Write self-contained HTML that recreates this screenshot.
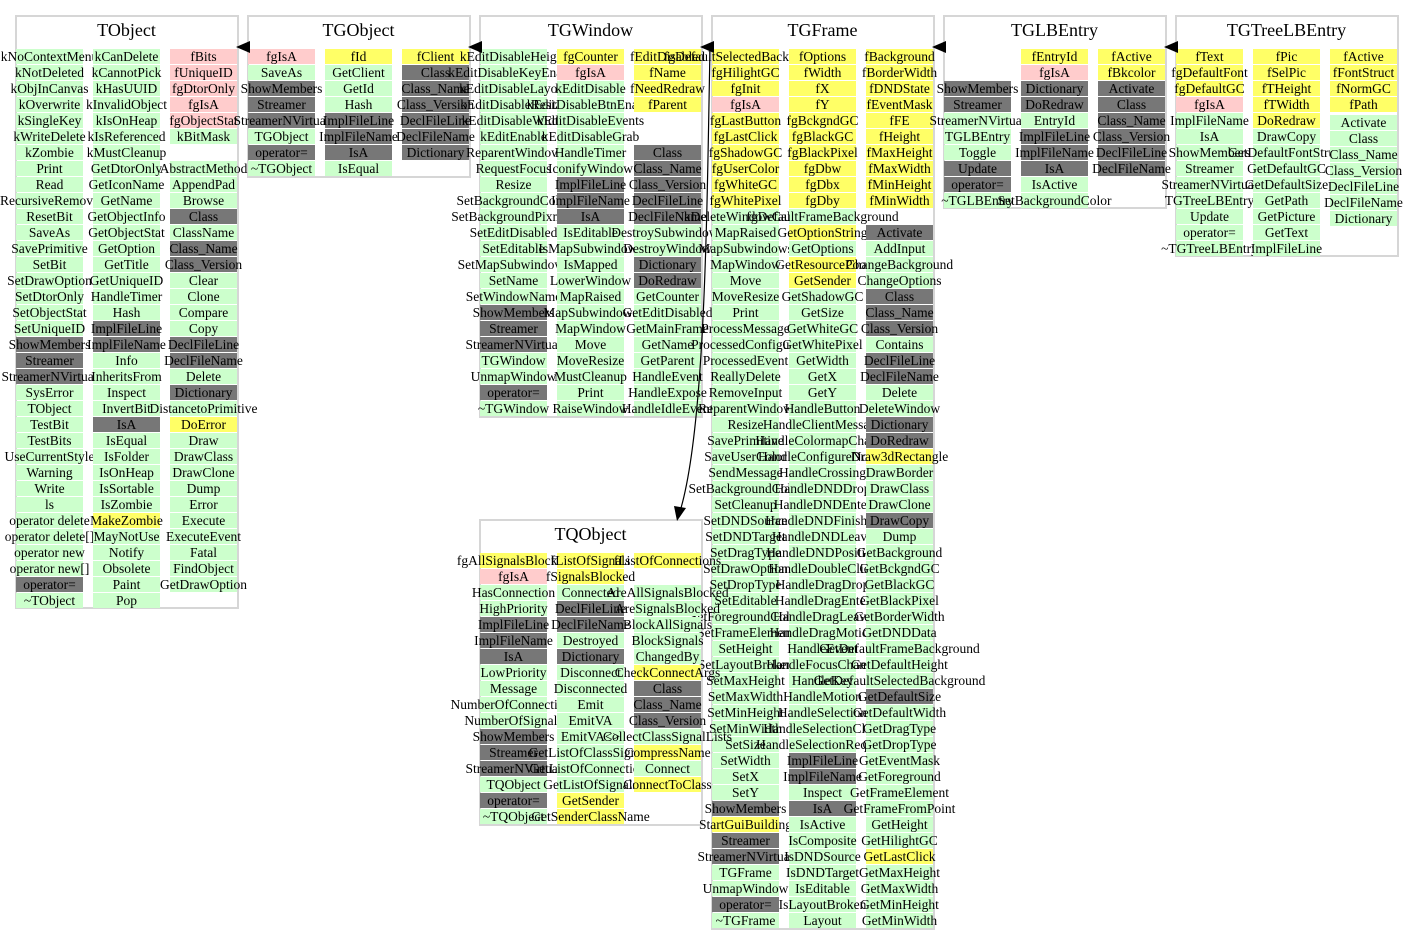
<!DOCTYPE html>
<html><head><meta charset="utf-8"><style>
body{margin:0;width:1413px;height:944px;background:#fff;position:relative;overflow:hidden;font-family:"Liberation Serif",serif;}
.b{position:absolute;border:2px solid #d6d6d6;box-sizing:border-box;}
.t{position:absolute;font-size:18px;text-align:center;width:223px;}
.col{position:absolute;width:67px;font-size:13.5px;}
.col i{display:flex;justify-content:center;align-items:center;height:15px;margin-bottom:1px;width:67px;white-space:nowrap;font-style:normal;color:#000;line-height:15px;}
.g{background:#ccffcc}.y{background:#ffff66}.p{background:#ffcccc}.d{background:#777}
</style></head><body>
<div class="b" style="left:15px;top:15px;width:224px;height:594px"></div>
<div class="b" style="left:247px;top:15px;width:224px;height:163px"></div>
<div class="b" style="left:479px;top:15px;width:224px;height:403px"></div>
<div class="b" style="left:711px;top:15px;width:224px;height:915px"></div>
<div class="b" style="left:943px;top:15px;width:224px;height:194px"></div>
<div class="b" style="left:1175px;top:15px;width:224px;height:242px"></div>
<div class="b" style="left:479px;top:519px;width:224px;height:307px"></div>
<div class="t" style="left:15px;top:20px">TObject</div>
<div class="t" style="left:247px;top:20px">TGObject</div>
<div class="t" style="left:479px;top:20px">TGWindow</div>
<div class="t" style="left:711px;top:20px">TGFrame</div>
<div class="t" style="left:943px;top:20px">TGLBEntry</div>
<div class="t" style="left:1175px;top:20px">TGTreeLBEntry</div>
<div class="t" style="left:479px;top:524px">TQObject</div>

<div class="col" style="left:16px;top:49px"><i class=g>kNoContextMenu</i><i class=g>kNotDeleted</i><i class=g>kObjInCanvas</i><i class=g>kOverwrite</i><i class=g>kSingleKey</i><i class=g>kWriteDelete</i><i class=g>kZombie</i><i class=g>Print</i><i class=g>Read</i><i class=g>RecursiveRemove</i><i class=g>ResetBit</i><i class=g>SaveAs</i><i class=g>SavePrimitive</i><i class=g>SetBit</i><i class=g>SetDrawOption</i><i class=g>SetDtorOnly</i><i class=g>SetObjectStat</i><i class=g>SetUniqueID</i><i class=d>ShowMembers</i><i class=d>Streamer</i><i class=d>StreamerNVirtual</i><i class=g>SysError</i><i class=g>TObject</i><i class=g>TestBit</i><i class=g>TestBits</i><i class=g>UseCurrentStyle</i><i class=g>Warning</i><i class=g>Write</i><i class=g>ls</i><i class=g>operator delete</i><i class=g>operator delete[]</i><i class=g>operator new</i><i class=g>operator new[]</i><i class=d>operator=</i><i class=g>~TObject</i></div>
<div class="col" style="left:93px;top:49px"><i class=g>kCanDelete</i><i class=g>kCannotPick</i><i class=g>kHasUUID</i><i class=g>kInvalidObject</i><i class=g>kIsOnHeap</i><i class=g>kIsReferenced</i><i class=g>kMustCleanup</i><i class=g>GetDtorOnly</i><i class=g>GetIconName</i><i class=g>GetName</i><i class=g>GetObjectInfo</i><i class=g>GetObjectStat</i><i class=g>GetOption</i><i class=g>GetTitle</i><i class=g>GetUniqueID</i><i class=g>HandleTimer</i><i class=g>Hash</i><i class=d>ImplFileLine</i><i class=d>ImplFileName</i><i class=g>Info</i><i class=g>InheritsFrom</i><i class=g>Inspect</i><i class=g>InvertBit</i><i class=d>IsA</i><i class=g>IsEqual</i><i class=g>IsFolder</i><i class=g>IsOnHeap</i><i class=g>IsSortable</i><i class=g>IsZombie</i><i class=y>MakeZombie</i><i class=g>MayNotUse</i><i class=g>Notify</i><i class=g>Obsolete</i><i class=g>Paint</i><i class=g>Pop</i></div>
<div class="col" style="left:170px;top:49px"><i class=p>fBits</i><i class=p>fUniqueID</i><i class=p>fgDtorOnly</i><i class=p>fgIsA</i><i class=p>fgObjectStat</i><i class=g>kBitMask</i><i></i><i class=g>AbstractMethod</i><i class=g>AppendPad</i><i class=g>Browse</i><i class=d>Class</i><i class=g>ClassName</i><i class=d>Class_Name</i><i class=d>Class_Version</i><i class=g>Clear</i><i class=g>Clone</i><i class=g>Compare</i><i class=g>Copy</i><i class=d>DeclFileLine</i><i class=d>DeclFileName</i><i class=g>Delete</i><i class=d>Dictionary</i><i class=g>DistancetoPrimitive</i><i class=y>DoError</i><i class=g>Draw</i><i class=g>DrawClass</i><i class=g>DrawClone</i><i class=g>Dump</i><i class=g>Error</i><i class=g>Execute</i><i class=g>ExecuteEvent</i><i class=g>Fatal</i><i class=g>FindObject</i><i class=g>GetDrawOption</i></div>

<div class="col" style="left:248px;top:49px"><i class=p>fgIsA</i><i class=g>SaveAs</i><i class=d>ShowMembers</i><i class=d>Streamer</i><i class=d>StreamerNVirtual</i><i class=g>TGObject</i><i class=d>operator=</i><i class=g>~TGObject</i></div>
<div class="col" style="left:325px;top:49px"><i class=y>fId</i><i class=g>GetClient</i><i class=g>GetId</i><i class=g>Hash</i><i class=d>ImplFileLine</i><i class=d>ImplFileName</i><i class=d>IsA</i><i class=g>IsEqual</i></div>
<div class="col" style="left:402px;top:49px"><i class=y>fClient</i><i class=d>Class</i><i class=d>Class_Name</i><i class=d>Class_Version</i><i class=d>DeclFileLine</i><i class=d>DeclFileName</i><i class=d>Dictionary</i></div>

<div class="col" style="left:480px;top:49px"><i class=g>kEditDisableHeight</i><i class=g>kEditDisableKeyEnable</i><i class=g>kEditDisableLayout</i><i class=g>kEditDisableResize</i><i class=g>kEditDisableWidth</i><i class=g>kEditEnable</i><i class=g>ReparentWindow</i><i class=g>RequestFocus</i><i class=g>Resize</i><i class=g>SetBackgroundColor</i><i class=g>SetBackgroundPixmap</i><i class=g>SetEditDisabled</i><i class=g>SetEditable</i><i class=g>SetMapSubwindows</i><i class=g>SetName</i><i class=g>SetWindowName</i><i class=d>ShowMembers</i><i class=d>Streamer</i><i class=d>StreamerNVirtual</i><i class=g>TGWindow</i><i class=g>UnmapWindow</i><i class=d>operator=</i><i class=g>~TGWindow</i></div>
<div class="col" style="left:557px;top:49px"><i class=y>fgCounter</i><i class=p>fgIsA</i><i class=g>kEditDisable</i><i class=g>kEditDisableBtnEnable</i><i class=g>kEditDisableEvents</i><i class=g>kEditDisableGrab</i><i class=g>HandleTimer</i><i class=g>IconifyWindow</i><i class=d>ImplFileLine</i><i class=d>ImplFileName</i><i class=d>IsA</i><i class=g>IsEditable</i><i class=g>IsMapSubwindows</i><i class=g>IsMapped</i><i class=g>LowerWindow</i><i class=g>MapRaised</i><i class=g>MapSubwindows</i><i class=g>MapWindow</i><i class=g>Move</i><i class=g>MoveResize</i><i class=g>MustCleanup</i><i class=g>Print</i><i class=g>RaiseWindow</i></div>
<div class="col" style="left:634px;top:49px"><i class=y>fEditDisabled</i><i class=y>fName</i><i class=y>fNeedRedraw</i><i class=y>fParent</i><i></i><i></i><i class=d>Class</i><i class=d>Class_Name</i><i class=d>Class_Version</i><i class=d>DeclFileLine</i><i class=d>DeclFileName</i><i class=g>DestroySubwindows</i><i class=g>DestroyWindow</i><i class=d>Dictionary</i><i class=d>DoRedraw</i><i class=g>GetCounter</i><i class=g>GetEditDisabled</i><i class=g>GetMainFrame</i><i class=g>GetName</i><i class=g>GetParent</i><i class=g>HandleEvent</i><i class=g>HandleExpose</i><i class=g>HandleIdleEvent</i></div>

<div class="col" style="left:712px;top:49px"><i class=y>fgDefaultSelectedBackground</i><i class=y>fgHilightGC</i><i class=y>fgInit</i><i class=p>fgIsA</i><i class=y>fgLastButton</i><i class=y>fgLastClick</i><i class=y>fgShadowGC</i><i class=y>fgUserColor</i><i class=y>fgWhiteGC</i><i class=y>fgWhitePixel</i><i class=g>kDeleteWindowCalled</i><i class=g>MapRaised</i><i class=g>MapSubwindows</i><i class=g>MapWindow</i><i class=g>Move</i><i class=g>MoveResize</i><i class=g>Print</i><i class=g>ProcessMessage</i><i class=g>ProcessedConfigure</i><i class=g>ProcessedEvent</i><i class=g>ReallyDelete</i><i class=g>RemoveInput</i><i class=g>ReparentWindow</i><i class=g>Resize</i><i class=g>SavePrimitive</i><i class=g>SaveUserColor</i><i class=g>SendMessage</i><i class=g>SetBackgroundColor</i><i class=g>SetCleanup</i><i class=g>SetDNDSource</i><i class=g>SetDNDTarget</i><i class=g>SetDragType</i><i class=g>SetDrawOption</i><i class=g>SetDropType</i><i class=g>SetEditable</i><i class=g>SetForegroundColor</i><i class=g>SetFrameElement</i><i class=g>SetHeight</i><i class=g>SetLayoutBroken</i><i class=g>SetMaxHeight</i><i class=g>SetMaxWidth</i><i class=g>SetMinHeight</i><i class=g>SetMinWidth</i><i class=g>SetSize</i><i class=g>SetWidth</i><i class=g>SetX</i><i class=g>SetY</i><i class=d>ShowMembers</i><i class=y>StartGuiBuilding</i><i class=d>Streamer</i><i class=d>StreamerNVirtual</i><i class=g>TGFrame</i><i class=g>UnmapWindow</i><i class=d>operator=</i><i class=g>~TGFrame</i></div>
<div class="col" style="left:789px;top:49px"><i class=y>fOptions</i><i class=y>fWidth</i><i class=y>fX</i><i class=y>fY</i><i class=y>fgBckgndGC</i><i class=y>fgBlackGC</i><i class=y>fgBlackPixel</i><i class=y>fgDbw</i><i class=y>fgDbx</i><i class=y>fgDby</i><i class=g>fgDefaultFrameBackground</i><i class=y>GetOptionString</i><i class=g>GetOptions</i><i class=y>GetResourcePool</i><i class=y>GetSender</i><i class=g>GetShadowGC</i><i class=g>GetSize</i><i class=g>GetWhiteGC</i><i class=g>GetWhitePixel</i><i class=g>GetWidth</i><i class=g>GetX</i><i class=g>GetY</i><i class=g>HandleButton</i><i class=g>HandleClientMessage</i><i class=g>HandleColormapChange</i><i class=g>HandleConfigureNotify</i><i class=g>HandleCrossing</i><i class=g>HandleDNDDrop</i><i class=g>HandleDNDEnter</i><i class=g>HandleDNDFinished</i><i class=g>HandleDNDLeave</i><i class=g>HandleDNDPosition</i><i class=g>HandleDoubleClick</i><i class=g>HandleDragDrop</i><i class=g>HandleDragEnter</i><i class=g>HandleDragLeave</i><i class=g>HandleDragMotion</i><i class=g>HandleEvent</i><i class=g>HandleFocusChange</i><i class=g>HandleKey</i><i class=g>HandleMotion</i><i class=g>HandleSelection</i><i class=g>HandleSelectionClear</i><i class=g>HandleSelectionRequest</i><i class=d>ImplFileLine</i><i class=d>ImplFileName</i><i class=g>Inspect</i><i class=d>IsA</i><i class=g>IsActive</i><i class=g>IsComposite</i><i class=g>IsDNDSource</i><i class=g>IsDNDTarget</i><i class=g>IsEditable</i><i class=g>IsLayoutBroken</i><i class=g>Layout</i></div>
<div class="col" style="left:866px;top:49px"><i class=y>fBackground</i><i class=y>fBorderWidth</i><i class=y>fDNDState</i><i class=y>fEventMask</i><i class=y>fFE</i><i class=y>fHeight</i><i class=y>fMaxHeight</i><i class=y>fMaxWidth</i><i class=y>fMinHeight</i><i class=y>fMinWidth</i><i></i><i class=d>Activate</i><i class=g>AddInput</i><i class=g>ChangeBackground</i><i class=g>ChangeOptions</i><i class=d>Class</i><i class=d>Class_Name</i><i class=d>Class_Version</i><i class=g>Contains</i><i class=d>DeclFileLine</i><i class=d>DeclFileName</i><i class=g>Delete</i><i class=g>DeleteWindow</i><i class=d>Dictionary</i><i class=d>DoRedraw</i><i class=y>Draw3dRectangle</i><i class=g>DrawBorder</i><i class=g>DrawClass</i><i class=g>DrawClone</i><i class=d>DrawCopy</i><i class=g>Dump</i><i class=g>GetBackground</i><i class=g>GetBckgndGC</i><i class=g>GetBlackGC</i><i class=g>GetBlackPixel</i><i class=g>GetBorderWidth</i><i class=g>GetDNDData</i><i class=g>GetDefaultFrameBackground</i><i class=g>GetDefaultHeight</i><i class=g>GetDefaultSelectedBackground</i><i class=d>GetDefaultSize</i><i class=g>GetDefaultWidth</i><i class=g>GetDragType</i><i class=g>GetDropType</i><i class=g>GetEventMask</i><i class=g>GetForeground</i><i class=g>GetFrameElement</i><i class=g>GetFrameFromPoint</i><i class=g>GetHeight</i><i class=g>GetHilightGC</i><i class=y>GetLastClick</i><i class=g>GetMaxHeight</i><i class=g>GetMaxWidth</i><i class=g>GetMinHeight</i><i class=g>GetMinWidth</i></div>

<div class="col" style="left:944px;top:49px"><i></i><i></i><i class=d>ShowMembers</i><i class=d>Streamer</i><i class=g>StreamerNVirtual</i><i class=g>TGLBEntry</i><i class=g>Toggle</i><i class=d>Update</i><i class=d>operator=</i><i class=g>~TGLBEntry</i></div>
<div class="col" style="left:1021px;top:49px"><i class=y>fEntryId</i><i class=p>fgIsA</i><i class=d>Dictionary</i><i class=d>DoRedraw</i><i class=g>EntryId</i><i class=d>ImplFileLine</i><i class=d>ImplFileName</i><i class=d>IsA</i><i class=g>IsActive</i><i class=g>SetBackgroundColor</i></div>
<div class="col" style="left:1098px;top:49px"><i class=y>fActive</i><i class=y>fBkcolor</i><i class=d>Activate</i><i class=d>Class</i><i class=d>Class_Name</i><i class=d>Class_Version</i><i class=d>DeclFileLine</i><i class=d>DeclFileName</i></div>

<div class="col" style="left:1176px;top:49px"><i class=y>fText</i><i class=y>fgDefaultFont</i><i class=y>fgDefaultGC</i><i class=p>fgIsA</i><i class=g>ImplFileName</i><i class=g>IsA</i><i class=g>ShowMembers</i><i class=g>Streamer</i><i class=g>StreamerNVirtual</i><i class=g>TGTreeLBEntry</i><i class=g>Update</i><i class=g>operator=</i><i class=g>~TGTreeLBEntry</i></div>
<div class="col" style="left:1253px;top:49px"><i class=y>fPic</i><i class=y>fSelPic</i><i class=y>fTHeight</i><i class=y>fTWidth</i><i class=y>DoRedraw</i><i class=g>DrawCopy</i><i class=g>GetDefaultFontStruct</i><i class=g>GetDefaultGC</i><i class=g>GetDefaultSize</i><i class=g>GetPath</i><i class=g>GetPicture</i><i class=g>GetText</i><i class=g>ImplFileLine</i></div>
<div class="col" style="left:1330px;top:49px"><i class=y>fActive</i><i class=y>fFontStruct</i><i class=y>fNormGC</i><i class=y>fPath</i></div>
<div class="col" style="left:1330px;top:115px"><i class=g>Activate</i><i class=g>Class</i><i class=g>Class_Name</i><i class=g>Class_Version</i><i class=g>DeclFileLine</i><i class=g>DeclFileName</i><i class=g>Dictionary</i></div>

<div class="col" style="left:480px;top:553px"><i class=y>fgAllSignalsBlocked</i><i class=p>fgIsA</i><i class=g>HasConnection</i><i class=g>HighPriority</i><i class=d>ImplFileLine</i><i class=d>ImplFileName</i><i class=d>IsA</i><i class=g>LowPriority</i><i class=g>Message</i><i class=g>NumberOfConnections</i><i class=g>NumberOfSignals</i><i class=d>ShowMembers</i><i class=d>Streamer</i><i class=d>StreamerNVirtual</i><i class=g>TQObject</i><i class=d>operator=</i><i class=g>~TQObject</i></div>
<div class="col" style="left:557px;top:553px"><i class=y>fListOfSignals</i><i class=y>fSignalsBlocked</i><i class=g>Connected</i><i class=d>DeclFileLine</i><i class=d>DeclFileName</i><i class=g>Destroyed</i><i class=d>Dictionary</i><i class=g>Disconnect</i><i class=g>Disconnected</i><i class=g>Emit</i><i class=g>EmitVA</i><i class=g>EmitVA&lt;&gt;</i><i class=g>GetListOfClassSignals</i><i class=g>GetListOfConnections</i><i class=g>GetListOfSignals</i><i class=y>GetSender</i><i class=y>GetSenderClassName</i></div>
<div class="col" style="left:634px;top:553px"><i class=y>fListOfConnections</i><i></i><i class=g>AreAllSignalsBlocked</i><i class=g>AreSignalsBlocked</i><i class=g>BlockAllSignals</i><i class=g>BlockSignals</i><i class=g>ChangedBy</i><i class=y>CheckConnectArgs</i><i class=d>Class</i><i class=d>Class_Name</i><i class=d>Class_Version</i><i class=g>CollectClassSignalLists</i><i class=y>CompressName</i><i class=g>Connect</i><i class=y>ConnectToClass</i></div>

<svg width="1413" height="944" style="position:absolute;left:0;top:0">
<g fill="#000">
<polygon points="236,47 250,41 250,53"/>
<polygon points="468,47 482,41 482,53"/>
<polygon points="700,47 714,41 714,53"/>
<polygon points="932,47 946,41 946,53"/>
<polygon points="1164,47 1178,41 1178,53"/>
<polygon points="677,521 674,506 686,508"/>
</g>
<path d="M710,48 C707,200 706,420 681,508" stroke="#000" stroke-width="1.2" fill="none"/>
</svg>
</body></html>
